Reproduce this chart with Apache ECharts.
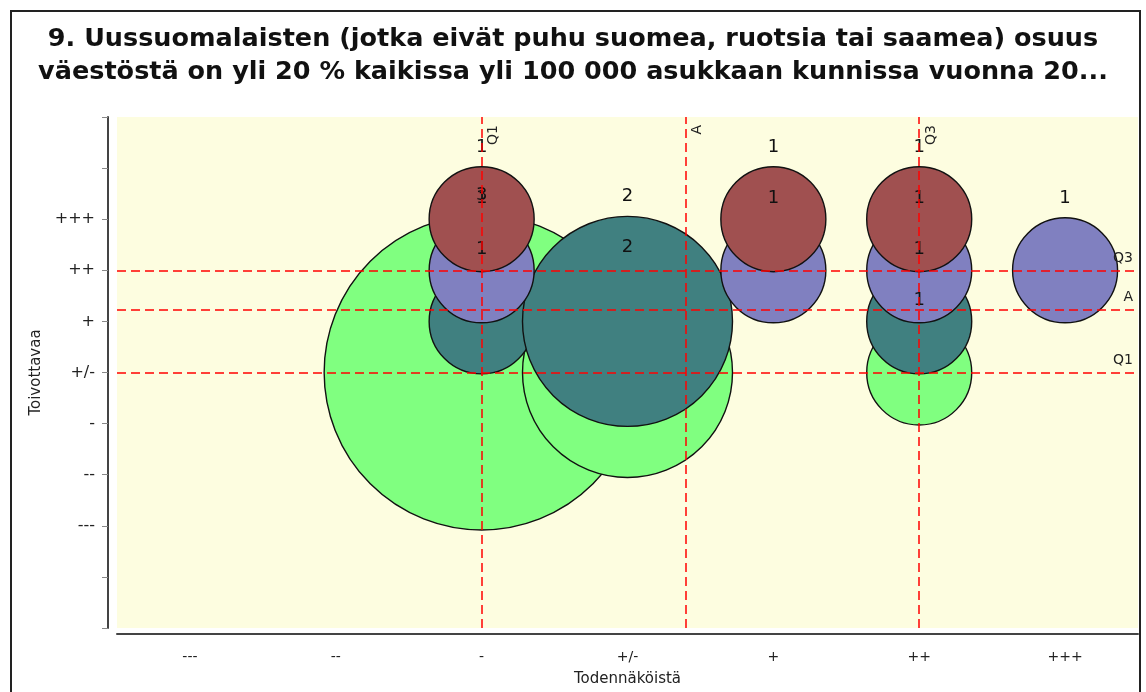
<!DOCTYPE html>
<html lang="fi">
<head>
    <meta charset="UTF-8">
    <title>Kupla</title>
    <script src="https://cdn.jsdelivr.net/npm/echarts@6/dist/echarts.min.js"></script>
    <style>
        *{
            margin: 0;
            padding: 0;
        }
        html,body{
            width: 100%;
            height: 100%;
            overflow: hidden;
            background: #fff;
        }
        .container{
            width: 1146px;
            height: 692px;
        }
    </style>
</head>
<body>
<div class="container"></div>
<script>
    // asteikot: -3 ... 3
    let xLabels = ['---', '--', '-', '+/-', '+', '++', '+++'];
    let yLabels = ['---', '--', '-', '+/-', '+', '++', '+++'];

    // [todennäköisyys, toivottavuus, lukumäärä]
    let greenData = [[-1, 0, 3], [0, 0, 2], [2, 0, 1]];
    let tealData = [[-1, 1, 1], [0, 1, 2], [2, 1, 1]];
    let blueData = [[-1, 2, 1], [1, 2, 1], [2, 2, 1], [3, 2, 1]];
    let redData = [[-1, 3, 1], [1, 3, 1], [2, 3, 1]];

    // tunnusluvut (Q1, keskiarvo, Q3)
    let xStats = [['Q1', -1], ['A', 0.4], ['Q3', 2]];
    let yStats = [['Q3', 2], ['A', 1.23], ['Q1', 0]];

    window.onload = function () {
        let container = document.querySelector('.container')
        let mycharts = echarts.init(container)
        let font = 'DejaVu Sans'

        function bubble(name, data, color) {
            return {
                name: name,
                type: 'scatter',
                xAxisIndex: 1,
                data: data,
                symbolSize: function (val) {
                    return val[2] * 105
                },
                itemStyle: {
                    color: color,
                    opacity: 1,
                    borderColor: '#111',
                    borderWidth: 1.4
                },
                label: {
                    show: true,
                    position: 'top',
                    distance: 10,
                    formatter: function (p) {
                        return p.value[2]
                    },
                    color: '#111',
                    fontFamily: font,
                    fontSize: 18
                },
                emphasis: {disabled: true}
            }
        }

        let series = [
            bubble('1', greenData, '#80ff80'),
            bubble('2', tealData, '#408080'),
            bubble('3', blueData, '#8080c0'),
            bubble('4', redData, '#a05050')
        ]

        let refStyle = {color: '#ff0000', type: [9, 5], width: 1.5}
        let vLines = xStats.map(s => ({
            name: s[0], xAxis: s[1],
            label: {position: 'insideEndBottom', distance: [8, 5]}
        }))
        let hLines = yStats.map(s => ({
            name: s[0], yAxis: s[1],
            label: {position: 'insideEndTop'}
        }))
        series[3].markLine = {
            silent: true,
            symbol: 'none',
            animation: false,
            lineStyle: refStyle,
            label: {
                formatter: '{b}',
                color: '#222',
                fontFamily: font,
                fontSize: 14
            },
            data: vLines.concat(hLines)
        }

        let options = {
            animation: false,
            backgroundColor: '#fff',
            title: {
                text: '9. Uussuomalaisten (jotka eivät puhu suomea, ruotsia tai saamea) osuus\nväestöstä on yli 20 % kaikissa yli 100 000 asukkaan kunnissa vuonna 20...',
                left: 'center',
                top: 18,
                textStyle: {
                    fontFamily: font,
                    fontSize: 25.5,
                    fontWeight: 'bold',
                    lineHeight: 33,
                    color: '#111'
                }
            },
            graphic: [{
                type: 'rect',
                shape: {x: 11, y: 11, width: 1129, height: 700},
                style: {fill: 'none', stroke: '#222', lineWidth: 2},
                silent: true,
                z: -1
            }],
            grid: {
                left: 117,
                right: 8,
                top: 117,
                bottom: 64,
                show: true,
                backgroundColor: '#fdfde0',
                borderWidth: 0
            },
            xAxis: [{
                type: 'category',
                data: xLabels,
                boundaryGap: true,
                offset: 6,
                name: 'Todennäköistä',
                nameLocation: 'middle',
                nameGap: 38,
                nameTextStyle: {fontFamily: font, fontSize: 15, color: '#222'},
                axisLine: {onZero: false, lineStyle: {color: '#444', width: 2}},
                axisTick: {length: 7, lineStyle: {color: '#888'}},
                axisLabel: {fontFamily: font, fontSize: 14, color: '#222', margin: 16},
                splitLine: {show: false}
            }, {
                type: 'value',
                min: -3.5,
                max: 3.5,
                show: false,
                axisLine: {onZero: false},
                splitLine: {show: false}
            }],
            yAxis: {
                type: 'value',
                min: -5,
                max: 5,
                interval: 1,
                offset: 9,
                name: 'Toivottavaa',
                nameLocation: 'middle',
                nameGap: 64,
                nameTextStyle: {fontFamily: font, fontSize: 15, color: '#222'},
                axisLine: {show: true, onZero: false, lineStyle: {color: '#444', width: 2}},
                axisTick: {show: true, length: 6, lineStyle: {color: '#888'}},
                axisLabel: {
                    fontFamily: font, fontSize: 16, color: '#222', margin: 13,
                    formatter: function (v) {
                        return yLabels[v + 3] || ''
                    }
                },
                splitLine: {show: false}
            },
            series
        };

        mycharts.setOption(options)
    }
</script>
</body>
</html>
